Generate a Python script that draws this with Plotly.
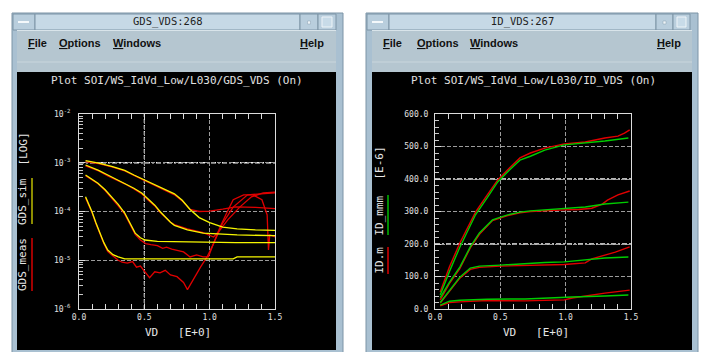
import plotly.graph_objects as go

# ---------------- data: left plot (GDS vs VD, log scale) ----------------
vd_sim1 = [0.05, 0.15, 0.25, 0.35, 0.42, 0.49, 0.58, 0.67, 0.73, 0.79, 0.85, 0.92, 1.0, 1.1, 1.21, 1.35, 1.5]
gds_sim1 = [1.10e-3, 9.8e-4, 8.4e-4, 7.0e-4, 5.6e-4, 4.6e-4, 3.6e-4, 2.8e-4, 2.3e-4, 1.7e-4, 1.1e-4, 7.5e-5, 5.9e-5, 4.8e-5, 4.4e-5, 4.2e-5, 4.1e-5]
vd_meas1 = [0.05, 0.15, 0.25, 0.35, 0.42, 0.49, 0.58, 0.67, 0.73, 0.79, 0.85, 0.92, 1.0, 1.1, 1.2, 1.35, 1.5]
gds_meas1 = [1.05e-3, 9.6e-4, 8.2e-4, 6.8e-4, 5.5e-4, 4.5e-4, 3.5e-4, 2.7e-4, 2.2e-4, 1.65e-4, 1.1e-4, 1.0e-4, 1.02e-4, 1.12e-4, 1.25e-4, 1.22e-4, 1.15e-4]

vd_sim2 = [0.05, 0.15, 0.22, 0.35, 0.42, 0.48, 0.53, 0.58, 0.62, 0.66, 0.70, 0.73, 0.83, 0.95, 1.1, 1.21, 1.5]
gds_sim2 = [9.0e-4, 7.0e-4, 5.6e-4, 3.8e-4, 3.0e-4, 2.4e-4, 1.8e-4, 1.35e-4, 1.0e-4, 7.6e-5, 6.0e-5, 5.2e-5, 4.2e-5, 3.6e-5, 3.4e-5, 3.3e-5, 3.2e-5]
vd_meas2 = [0.05, 0.15, 0.22, 0.35, 0.42, 0.48, 0.53, 0.58, 0.62, 0.66, 0.70, 0.73, 0.83, 0.95, 1.03, 1.08, 1.14, 1.23, 1.32, 1.41, 1.5]
gds_meas2 = [8.6e-4, 6.8e-4, 5.4e-4, 3.7e-4, 2.9e-4, 2.3e-4, 1.7e-4, 1.3e-4, 9.6e-5, 7.4e-5, 6.0e-5, 5.4e-5, 4.4e-5, 3.7e-5, 3.0e-5, 4.2e-5, 6.8e-5, 1.23e-4, 2.0e-4, 2.4e-4, 2.5e-4]

vd_sim3 = [0.05, 0.10, 0.145, 0.20, 0.25, 0.30, 0.35, 0.40, 0.43, 0.47, 0.505, 0.6, 0.8, 1.0, 1.2, 1.5]
gds_sim3 = [5.6e-4, 4.6e-4, 3.8e-4, 2.8e-4, 2.0e-4, 1.4e-4, 9.3e-5, 5.2e-5, 3.6e-5, 2.9e-5, 2.6e-5, 2.45e-5, 2.4e-5, 2.3e-5, 2.3e-5, 2.3e-5]
vd_meas3 = [0.05, 0.10, 0.145, 0.20, 0.25, 0.30, 0.35, 0.40, 0.43, 0.47, 0.51, 0.55, 0.60, 0.64, 0.67, 0.71, 0.75,
            0.80, 0.85, 0.90, 0.95, 0.99, 1.04, 1.08, 1.13, 1.18, 1.26, 1.33, 1.40, 1.44, 1.45, 1.46, 1.5]
gds_meas3 = [5.4e-4, 4.5e-4, 3.7e-4, 2.7e-4, 1.9e-4, 1.3e-4, 8.8e-5, 5.0e-5, 3.4e-5, 2.6e-5, 2.2e-5, 2.1e-5, 2.0e-5, 1.75e-5, 1.86e-5, 1.7e-5, 1.62e-5,
             1.48e-5, 1.17e-5, 1.29e-5, 1.17e-5, 1.17e-5, 2.6e-5, 4.8e-5, 9.3e-5, 1.74e-4, 2.2e-4, 2.2e-4, 1.74e-4, 8.5e-5, 1.62e-5, 3.3e-5, 3.0e-5]

vd_sim4 = [0.05, 0.10, 0.13, 0.16, 0.19, 0.22, 0.26, 0.30, 0.35, 0.6, 0.9, 1.18, 1.21, 1.5]
gds_sim4 = [2.0e-4, 9.8e-5, 5.8e-5, 3.6e-5, 2.3e-5, 1.62e-5, 1.3e-5, 1.17e-5, 1.07e-5, 1.07e-5, 1.07e-5, 1.07e-5, 1.17e-5, 1.17e-5]
vd_meas4 = [0.05, 0.10, 0.13, 0.16, 0.19, 0.22, 0.26, 0.30, 0.33, 0.37, 0.41, 0.44, 0.47, 0.50, 0.54, 0.58, 0.62, 0.66,
            0.70, 0.75, 0.80, 0.83, 0.87, 0.93, 0.98, 1.03, 1.10, 1.18, 1.29, 1.39, 1.5]
gds_meas4 = [1.9e-4, 9.4e-5, 5.6e-5, 3.4e-5, 2.2e-5, 1.5e-5, 1.2e-5, 1.0e-5, 9.1e-6, 8.7e-6, 9.4e-6, 7.2e-6, 7.6e-6, 6.0e-6, 4.4e-6, 5.8e-6, 5.5e-6, 6.2e-6,
             5.0e-6, 4.6e-6, 3.5e-6, 2.5e-6, 3.9e-6, 7.2e-6, 1.17e-5, 2.2e-5, 5.8e-5, 1.23e-4, 2.2e-4, 2.3e-4, 2.4e-4]

gds_tickvals = [1e-6, 1e-5, 1e-4, 1e-3, 1e-2]
gds_ticktext = ["10<sup>-6</sup>", "10<sup>-5</sup>", "10<sup>-4</sup>", "10<sup>-3</sup>", "10<sup>-2</sup>"]

# ---------------- data: right plot (ID vs VD, E-6) ----------------
vd_idsim1 = [0.04, 0.11, 0.19, 0.27, 0.31, 0.40, 0.48, 0.57, 0.65, 0.73, 0.84, 0.99, 1.15, 1.30, 1.48]
id_sim1 = [43, 115, 190, 255, 290, 343, 391, 428, 458, 470, 489, 505, 511, 517, 526]
vd_idmeas1 = [0.04, 0.11, 0.19, 0.27, 0.31, 0.40, 0.48, 0.57, 0.65, 0.73, 0.84, 0.99, 1.15, 1.30, 1.40, 1.45, 1.49]
id_meas1 = [52, 129, 203, 265, 298, 351, 397, 434, 465, 480, 495, 508, 514, 526, 532, 541, 551]

vd_idsim2 = [0.04, 0.11, 0.19, 0.27, 0.34, 0.44, 0.55, 0.65, 0.73, 0.84, 0.99, 1.15, 1.30, 1.48]
id_sim2 = [35, 82, 129, 191, 234, 274, 289, 298, 302, 305, 308, 314, 323, 329]
vd_idmeas2 = [0.04, 0.11, 0.19, 0.27, 0.34, 0.44, 0.55, 0.65, 0.73, 0.84, 0.99, 1.10, 1.20, 1.28, 1.32, 1.40, 1.49]
id_meas2 = [28, 78, 124, 188, 230, 272, 287, 296, 300, 303, 305, 306, 310, 323, 335, 351, 363]

vd_idsim3 = [0.04, 0.11, 0.19, 0.27, 0.34, 0.50, 0.73, 0.84, 0.99, 1.15, 1.30, 1.48]
id_sim3 = [20, 58, 98, 126, 132, 135, 141, 143, 145, 151, 157, 160]
vd_idmeas3 = [0.04, 0.11, 0.19, 0.27, 0.34, 0.50, 0.73, 0.99, 1.15, 1.20, 1.30, 1.38, 1.49]
id_meas3 = [18, 55, 95, 122, 128, 132, 135, 137, 142, 154, 166, 175, 191]

vd_idsim4 = [0.04, 0.11, 0.19, 0.40, 0.69, 0.84, 1.05, 1.30, 1.48]
id_sim4 = [12, 24, 27, 30, 31, 34, 37, 40, 43]
vd_idmeas4 = [0.04, 0.11, 0.19, 0.40, 0.69, 0.84, 0.99, 1.05, 1.20, 1.30, 1.49]
id_meas4 = [10, 20, 22, 26, 25, 27, 28, 34, 43, 49, 58]

# ---------------- layout helpers ----------------
W, H = 708, 352


def X(px):
    return px / W


def Y(py):
    return 1 - py / H


shapes = []
annotations = []

FRAME = "#a9c0d1"
FRAME_DARK = "#7d94a6"
TITLEBAR = "#c6d9e6"
MENU = "#b5c6d0"
MONO = "DejaVu Sans Mono"


def rect(x0, y0, x1, y1, fill, line=None, lw=0, layer="below"):
    shapes.append(dict(type="rect", xref="paper", yref="paper",
                       x0=X(x0), x1=X(x1), y0=Y(y1), y1=Y(y0),
                       fillcolor=fill, line=dict(color=line or fill, width=lw), layer=layer))


def pline(x0, y0, x1, y1, color, width=1, dash="solid", layer="below"):
    shapes.append(dict(type="line", xref="paper", yref="paper",
                       x0=X(x0), x1=X(x1), y0=Y(y0), y1=Y(y1),
                       line=dict(color=color, width=width, dash=dash), layer=layer))


def text(px, py, s, size=10, color="#ffffff", family=MONO, xanchor="center", angle=0, weight="normal"):
    annotations.append(dict(xref="paper", yref="paper", x=X(px), y=Y(py), text=s,
                            showarrow=False, xanchor=xanchor, yanchor="middle", textangle=angle,
                            font=dict(family=family, size=size, color=color, weight=weight)))


def window(fx0, fx1, cx0, cx1, b1, b2, b3, title, menu_pos, help_right):
    # outer frame
    rect(fx0, 13, fx1, 353, FRAME, FRAME_DARK, 1)
    # title bar pieces
    rect(fx0 + 1, 14, fx0 + 23, 30, "#b9cedd", FRAME_DARK, 1)
    pline(fx0 + 6, 22, fx0 + 17, 22, "#f4f8fb", 2)
    rect(fx0 + 23, 14, b1, 30, TITLEBAR, FRAME_DARK, 1)
    rect(b1, 14, b2, 30, "#b9cedd", FRAME_DARK, 1)
    rect((b1 + b2) / 2 - 1.5, 21, (b1 + b2) / 2 + 1.5, 24, "#eef4f8", "#8aa0b2", 0.5)
    rect(b2, 14, b3, 30, "#b9cedd", FRAME_DARK, 1)
    rect(b2 + 4, 17, b3 - 4, 27, "#c8dbe8", "#eef4f8", 1)
    # menu bar / strip
    rect(cx0, 30, cx1, 72, MENU)
    pline(cx0, 62, cx1, 62, "#c9d6dd", 1)
    pline(cx0, 30.5, cx1, 30.5, "#d9e4ea", 1)
    # black client area
    rect(cx0, 72, cx1, 350, "#000000")
    # title text
    text((fx0 + 23 + b1) / 2, 21.5, title, size=10.5, color="#1e1e1e")
    for label, x in menu_pos:
        text(x, 43.5, label, size=11, color="#111111", family="Liberation Sans",
             xanchor="left", weight="bold")
    text(help_right, 43.5, "<u>H</u>elp", size=11, color="#111111", family="Liberation Sans",
         xanchor="right", weight="bold")


window(12, 343, 17, 336, 300, 318, 336, "GDS_VDS:268",
       [("<u>F</u>ile", 25.5), ("<u>O</u>ptions", 56.5), ("<u>W</u>indows", 110.5)], 326)
window(366, 698, 372, 692, 656, 673, 690, "ID_VDS:267",
       [("<u>F</u>ile", 380.5), ("<u>O</u>ptions", 414.5), ("<u>W</u>indows", 467.5)], 682.5)

# plot titles
text(177.5, 80.5, "Plot SOI/WS_IdVd_Low/L030/GDS_VDS (On)", size=11, color="#e0e0e0")
text(533, 80.5, "Plot SOI/WS_IdVd_Low/L030/ID_VDS (On)", size=11, color="#e0e0e0")

# x-axis titles
text(143, 332, "VD   [E+0]", size=11, color="#e6e6e6", xanchor="left")
text(500.5, 332, "VD   [E+0]", size=11, color="#e6e6e6", xanchor="left")

# y-axis labels (rotated) with legend strokes
text(22.5, 264.5, "GDS_meas", size=11, color="#e6e6e6", angle=-90)
text(22.5, 201.5, "GDS_sim", size=11, color="#e6e6e6", angle=-90)
text(22.5, 149, "[LOG]", size=11, color="#e6e6e6", angle=-90)
pline(32, 238, 32, 291, "#a00000", 2, layer="above")
pline(32, 178, 32, 224, "#8c8c00", 2, layer="above")

text(378.5, 260, "ID.m", size=11, color="#e6e6e6", angle=-90)
text(378.5, 215, "ID_mmm", size=11, color="#e6e6e6", angle=-90)
text(378.5, 163, "[E-6]", size=11, color="#e6e6e6", angle=-90)
pline(388, 247, 388, 274, "#dd0000", 1.5, layer="above")
pline(388, 195, 388, 235, "#00bb00", 1.5, layer="above")

# brighter gridlines (the tool draws some grid lines whiter)
for yref, xref, val in [("y", "x domain", 1e-3), ("y2", "x2 domain", 200), ("y2", "x2 domain", 400)]:
    shapes.append(dict(type="line", xref=xref, yref=yref, x0=0, x1=1, y0=val, y1=val,
                       line=dict(color="#f2f2f2", width=1.3, dash="5px,2px,2px,2px"), layer="below"))
shapes.append(dict(type="line", xref="x", yref="y domain", x0=0.5, x1=0.5, y0=0, y1=1,
                   line=dict(color="#f2f2f2", width=1.2, dash="4px,2px"), layer="below"))

# ---------------- traces ----------------
fig = go.Figure()
RED = "#e00000"
YEL = "#f6f600"
GRN = "#00cc00"

for xs, ys in [(vd_meas1, gds_meas1), (vd_meas2, gds_meas2), (vd_meas3, gds_meas3), (vd_meas4, gds_meas4)]:
    fig.add_trace(go.Scatter(x=xs, y=ys, mode="lines", line=dict(color=RED, width=1.3),
                             xaxis="x", yaxis="y"))
for xs, ys in [(vd_sim1, gds_sim1), (vd_sim2, gds_sim2), (vd_sim3, gds_sim3), (vd_sim4, gds_sim4)]:
    fig.add_trace(go.Scatter(x=xs, y=ys, mode="lines", line=dict(color=YEL, width=1.3),
                             xaxis="x", yaxis="y"))

for xs, ys in [(vd_idmeas1, id_meas1), (vd_idmeas2, id_meas2), (vd_idmeas3, id_meas3), (vd_idmeas4, id_meas4)]:
    fig.add_trace(go.Scatter(x=xs, y=ys, mode="lines", line=dict(color=RED, width=1.4),
                             xaxis="x2", yaxis="y2"))
for xs, ys in [(vd_idsim1, id_sim1), (vd_idsim2, id_sim2), (vd_idsim3, id_sim3), (vd_idsim4, id_sim4)]:
    fig.add_trace(go.Scatter(x=xs, y=ys, mode="lines", line=dict(color=GRN, width=1.4),
                             xaxis="x2", yaxis="y2"))

GRID = "#9c9c9c"
AXC = "#dcdcdc"
tickfont = dict(family=MONO, size=8, color="#e0e0e0")


def xaxis(domain, anchor):
    return dict(domain=domain, anchor=anchor, range=[0, 1.5], tickvals=[0, 0.5, 1.0, 1.5],
                ticktext=["0.0", "0.5", "1.0", "1.5"], ticks="inside", ticklen=5, tickcolor=AXC,
                minor=dict(ticks="inside", ticklen=5, tickcolor=AXC, dtick=0.1, showgrid=False),
                showline=True, linecolor=AXC, linewidth=1, mirror="ticks",
                showgrid=True, gridcolor=GRID, griddash="4px,2px", gridwidth=1,
                zeroline=False, tickfont=tickfont, automargin=False, fixedrange=True)


fig.update_layout(
    width=W, height=H, margin=dict(l=0, r=0, t=0, b=0),
    paper_bgcolor="#ffffff", plot_bgcolor="#000000",
    showlegend=False, hovermode=False, template="none",
    shapes=shapes, annotations=annotations,
    xaxis=xaxis([X(79), X(275)], "y"),
    xaxis2=xaxis([X(435), X(631)], "y2"),
    yaxis=dict(domain=[Y(309), Y(114)], anchor="x", type="log", range=[-6, -2],
               tickmode="array", tickvals=gds_tickvals, ticktext=gds_ticktext,
               ticks="inside", ticklen=6, tickcolor=AXC,
               minor=dict(ticks="inside", ticklen=4, tickcolor="#c8c8c8", dtick="D1", showgrid=False),
               showline=True, linecolor=AXC, linewidth=1, mirror=True,
               showgrid=True, gridcolor=GRID, griddash="4px,2px", gridwidth=1,
               zeroline=False, tickfont=tickfont, ticklabelstandoff=6,
               automargin=False, fixedrange=True),
    yaxis2=dict(domain=[Y(309), Y(114)], anchor="x2", range=[0, 600],
                tickvals=[0, 100, 200, 300, 400, 500, 600], tickformat=".1f",
                ticks="inside", ticklen=6, tickcolor=AXC,
                minor=dict(ticks="inside", ticklen=4, tickcolor="#c8c8c8", dtick=20, showgrid=False),
                showline=True, linecolor=AXC, linewidth=1, mirror=True,
                showgrid=True, gridcolor=GRID, griddash="4px,2px", gridwidth=1,
                zeroline=False, tickfont=tickfont, ticklabelstandoff=4,
                automargin=False, fixedrange=True),
)

fig.write_html("out.html", config={"displayModeBar": False},
               post_script="document.body.style.margin='0';document.body.style.overflow='hidden';")
